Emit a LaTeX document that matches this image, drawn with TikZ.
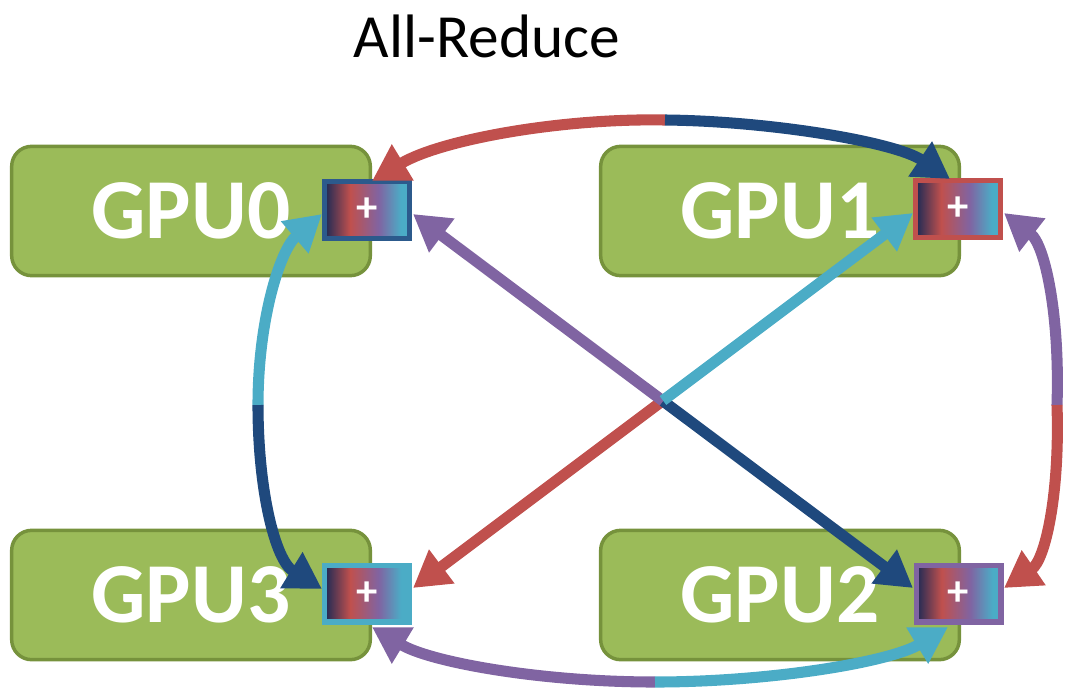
\documentclass[tikz,border=0pt]{standalone}
\usepackage{fontspec}
\setmainfont{Carlito}
\usetikzlibrary{arrows.meta}
\definecolor{gfill}{HTML}{9BBB59}
\definecolor{gline}{HTML}{76923C}
\definecolor{cred}{HTML}{C0504D}
\definecolor{cblue}{HTML}{1F497D}
\definecolor{cpurple}{HTML}{8064A2}
\definecolor{ccyan}{HTML}{4BACC6}
\definecolor{cnavy}{HTML}{262C55}
\definecolor{pblue}{HTML}{2C5A8C}
\pgfdeclarehorizontalshading{plusgrad}{100bp}{color(0bp)=(cnavy); color(26bp)=(cnavy); color(40bp)=(cred); color(57bp)=(cpurple); color(70bp)=(ccyan); color(100bp)=(ccyan)}
\tikzset{
  gpu/.style={draw=gline, line width=2.6pt, fill=gfill, rounded corners=15pt,
    minimum width=269pt, minimum height=97pt, inner sep=0pt,
    text=white, font=\bfseries\fontsize{64}{64}\selectfont},
  plusbox/.style={line width=4pt, shade, shading=plusgrad,
    minimum width=63.5pt, minimum height=42.5pt, inner sep=0pt,
    text=white, font=\bfseries\fontsize{32}{32}\selectfont},
  conn/.style={line width=8.3pt, -{Triangle[length=27pt,width=30pt]}},
  title/.style={font=\fontsize{46}{46}\selectfont, text=black}
}
\begin{document}
\begin{tikzpicture}[x=0.75pt,y=-0.75pt]
\useasboundingbox (0,0) rectangle (1065,694);
\node[title] (ttl) at (487,36) {All-Reduce};
% GPU boxes
\node[gpu] (g0) at (191,211) {GPU0};
\node[gpu] (g1) at (780,211) {GPU1};
\node[gpu] (g3) at (191,595) {GPU3};
\node[gpu] (g2) at (780,595) {GPU2};
% plus boxes
\node[plusbox, draw=pblue]   (p0) at (367,210) {+};
\node[plusbox, draw=cred]    (p1) at (958,209) {+};
\node[plusbox, draw=ccyan]   (p3) at (367,593.5) {+};
\node[plusbox, draw=cpurple] (p2) at (958.5,593.5) {+};
% connector end points and color change points
\coordinate (tL) at (372,181);
\coordinate (tR) at (950,179);
\coordinate (mt) at (665,120);
\coordinate (bL) at (372,627);
\coordinate (bR) at (948,627);
\coordinate (mb) at (655,682);
\coordinate (lT) at (322,214);
\coordinate (lB) at (322,589);
\coordinate (ml) at (258,405);
\coordinate (rT) at (1004,213);
\coordinate (rB) at (1004,588);
\coordinate (mr) at (1057,405);
\coordinate (aT) at (413,214);
\coordinate (aB) at (913,588);
\coordinate (bT) at (913,213);
\coordinate (bB) at (413,588);
\coordinate (ma) at (663,401);
\coordinate (mx) at (663,400.5);
% top arc
\draw[conn, cred]  (mt) .. controls (560,118) and (440,140) .. (tL);
\draw[conn, cblue] (mt) .. controls (770,121) and (895,142) .. (tR);
% bottom arc
\draw[conn, cpurple] (mb) .. controls (540,682) and (430,662) .. (bL);
\draw[conn, ccyan]   (mb) .. controls (770,682) and (890,662) .. (bR);
% left arc
\draw[conn, ccyan] (ml) .. controls (258,320) and (280,250) .. (lT);
\draw[conn, cblue] (ml) .. controls (258,490) and (275,560) .. (lB);
% right arc
\draw[conn, cpurple] (mr) .. controls (1060,315) and (1045,245) .. (rT);
\draw[conn, cred]    (mr) .. controls (1060,495) and (1045,560) .. (rB);
% diagonals
\draw[conn, cred]    (mx) -- (bB);
\draw[conn, cblue]   (ma) -- (aB);
\draw[conn, cpurple] (ma) -- (aT);
\draw[conn, ccyan]   (mx) -- (bT);
\end{tikzpicture}
\end{document}
